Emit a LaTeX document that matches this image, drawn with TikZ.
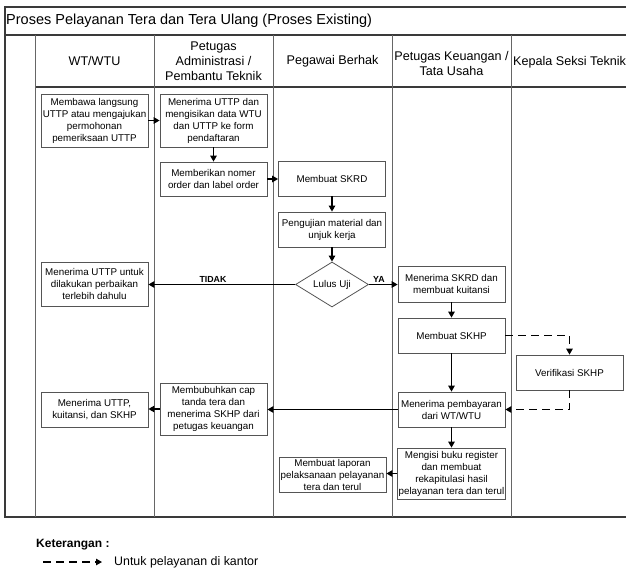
\documentclass[tikz,border=0pt]{standalone}
\usepackage{fontspec}
\setmainfont{Liberation Sans}
\usetikzlibrary{arrows.meta,shapes.geometric}
\definecolor{framec}{HTML}{3A3A3A}
\definecolor{lanec}{HTML}{666666}
\definecolor{boxc}{HTML}{555555}
\begin{document}
\begin{tikzpicture}[x=1pt,y=-1pt,
  procbox/.style={draw=boxc,line width=0.8pt,fill=white,minimum width=107pt,inner sep=1pt,align=center,font=\fontsize{9.8}{12}\selectfont},
  hdr/.style={align=center,font=\fontsize{12.6}{15}\selectfont},
  flow/.style={line width=1.3pt,-{Triangle[length=6pt,width=6.5pt]}},
  dflow/.style={line width=1.3pt,dash pattern=on 8pt off 5pt,-{Triangle[length=6pt,width=6.5pt]}},
  lbl/.style={font=\bfseries\fontsize{8.8}{10}\selectfont,inner sep=1.5pt}]
\useasboundingbox (0,0) rectangle (626,570);
\clip (0,0) rectangle (626,570);
% frame
\draw[framec,line width=1.2pt] (5,7) rectangle (660,517);
\draw[framec,line width=1.6pt] (5,35) -- (660,35);
\draw[framec,line width=1.2pt] (35,87) -- (660,87);
\foreach \xx in {35,154,273,392,511}{\draw[lanec,line width=1pt] (\xx,35) -- (\xx,517);}
% title and headers
\node[anchor=west,inner sep=0pt,font=\fontsize{14.5}{17}\selectfont] (title) at (6,21) {Proses Pelayanan Tera dan Tera Ulang (Proses Existing)};
\node[hdr] (h1) at (94.5,61) {WT/WTU};
\node[hdr] (h2) at (213.5,61) {Petugas\\Administrasi /\\Pembantu Teknik};
\node[hdr] (h3) at (332.5,61) {Pegawai Berhak};
\node[hdr] (h4) at (451.5,63) {Petugas Keuangan /\\Tata Usaha};
\node[hdr,anchor=west,inner sep=0pt] (h5) at (513,62) {Kepala Seksi Teknik};
% boxes
\node[procbox,minimum height=53pt] (b1) at (94.5,120.5) {Membawa langsung\\UTTP atau mengajukan\\permohonan\\pemeriksaan UTTP};
\node[procbox,minimum height=53pt] (b2) at (213.5,120.5) {Menerima UTTP dan\\mengisikan data WTU\\dan UTTP ke form\\pendaftaran};
\node[procbox,minimum height=34pt] (b3) at (213.5,179) {Memberikan nomer\\order dan label order};
\node[procbox,minimum height=35pt] (skrd) at (332,178.5) {Membuat SKRD};
\node[procbox,minimum height=35pt] (uji) at (332,229.5) {Pengujian material dan\\unjuk kerja};
\node[draw=boxc,line width=0.8pt,fill=white,diamond,aspect=1.6,minimum width=73pt,minimum height=45pt,inner sep=0pt,font=\fontsize{9.8}{12}\selectfont] (dia) at (332,284.5) {Lulus Uji};
\node[procbox,minimum height=44pt] (tolak) at (94.5,284) {Menerima UTTP untuk\\dilakukan perbaikan\\terlebih dahulu};
\node[procbox,minimum height=36pt] (skrdk) at (451.5,284) {Menerima SKRD dan\\membuat kuitansi};
\node[procbox,minimum height=35pt] (skhp) at (451.5,335.5) {Membuat SKHP};
\node[procbox,minimum height=35pt] (verif) at (569.5,372.5) {Verifikasi SKHP};
\node[procbox,minimum height=35pt] (bayar) at (451.5,409.5) {Menerima pembayaran\\dari WT/WTU};
\node[procbox,minimum height=52pt] (cap) at (213.5,409) {Membubuhkan cap\\tanda tera dan\\menerima SKHP dari\\petugas keuangan};
\node[procbox,minimum height=35pt] (terima) at (94.5,409.5) {Menerima UTTP,\\kuitansi, dan SKHP};
\node[procbox,minimum height=51pt] (isi) at (451.5,473.5) {Mengisi buku register\\dan membuat\\rekapitulasi hasil\\pelayanan tera dan terul};
\node[procbox,minimum height=35pt] (lap) at (332.5,474.5) {Membuat laporan\\pelaksanaan pelayanan\\tera dan terul};
% connectors
\draw[flow] (b1) -- (b2);
\draw[flow] (b2) -- (b3);
\draw[flow] (b3.east) -- (b3.east -| skrd.west);
\draw[flow] (skrd) -- (uji);
\draw[flow] (uji) -- (dia);
\draw[flow] (dia.west) -- node[lbl,above,pos=0.56] {TIDAK} (dia.west -| tolak.east);
\draw[flow] (dia.east) -- node[lbl,above,pos=0.35] {YA} (dia.east -| skrdk.west);
\draw[flow] (skrdk) -- (skhp);
\draw[flow] (skhp) -- (bayar);
\draw[dflow] (skhp.east) -| (verif.north);
\draw[dflow] (verif.south) |- (bayar.east);
\draw[flow] (bayar.west) -- (bayar.west -| cap.east);
\draw[flow] (cap.west) -- (cap.west -| terima.east);
\draw[flow] (bayar) -- (isi);
\draw[flow] (isi.west) -- (isi.west -| lap.east);
% legend
\node[anchor=west,inner sep=0pt,font=\bfseries\fontsize{12}{14}\selectfont] (ket) at (36,545) {Keterangan :};
\coordinate (la) at (43,562);
\coordinate (lb) at (102,562);
\draw[dflow,line width=1.2pt] (la) -- (lb);
\node[anchor=west,inner sep=0pt,font=\fontsize{12.4}{14}\selectfont] (ltxt) at (114,562) {Untuk pelayanan di kantor};
\end{tikzpicture}
\end{document}
